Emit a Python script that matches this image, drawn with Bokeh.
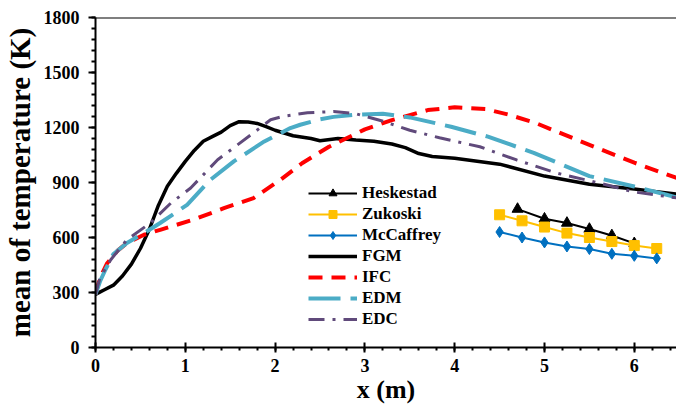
from bokeh.plotting import figure
from bokeh.models import Span, Range1d, FixedTicker
from bokeh.embed import file_html
from bokeh.resources import INLINE

# ---- data ----
x_fgm = [0, 0.1, 0.2, 0.3, 0.4, 0.5, 0.6, 0.7, 0.8, 0.9, 1.0, 1.1, 1.2, 1.3, 1.4, 1.5, 1.6, 1.7, 1.8, 1.9,
         2.0, 2.1, 2.2, 2.4, 2.5, 2.7, 2.9, 3.1, 3.3, 3.45, 3.6, 3.75, 4.0, 4.5, 5.0, 5.5, 6.0, 6.2, 6.5]
fgm = [290, 315, 340, 390, 455, 540, 645, 775, 880, 950, 1015, 1075, 1125, 1150, 1175, 1210, 1232, 1230, 1222, 1205,
       1185, 1170, 1155, 1140, 1128, 1140, 1132, 1125, 1110, 1090, 1058, 1042, 1032, 1000, 935, 890, 865, 853, 835]

x_ifc = [0, 0.05, 0.13, 0.25, 0.35, 0.54, 0.72, 1.09, 1.43, 1.76, 2.06, 2.3, 2.6, 3.0, 3.3, 3.7, 4.0, 4.35,
         4.6, 4.9, 5.4, 6.0, 6.5]
ifc = [290, 380, 460, 530, 570, 615, 642, 697, 760, 815, 915, 1005, 1095, 1190, 1240, 1295, 1310, 1300,
       1270, 1225, 1125, 1008, 920]

x_edm = [0, 0.05, 0.11, 0.2, 0.35, 0.54, 0.72, 1.02, 1.28, 1.54, 1.88, 2.17, 2.28, 2.5, 2.65, 2.9,
         3.2, 3.5, 3.96, 4.37, 4.88, 5.5, 6.0, 6.36, 6.5]
edm = [290, 360, 424, 510, 570, 624, 679, 778, 915, 1015, 1124, 1197, 1215, 1245, 1258, 1270,
       1275, 1255, 1204, 1150, 1062, 935, 878, 833, 815]

x_edc = [0, 0.05, 0.17, 0.35, 0.61, 0.84, 1.06, 1.36, 1.73, 1.95, 2.1, 2.36, 2.65, 2.9, 3.21, 3.5,
         3.83, 4.28, 4.69, 5.13, 5.61, 5.99, 6.47]
edc = [290, 380, 479, 588, 679, 788, 870, 1024, 1160, 1242, 1262, 1280, 1287, 1275, 1233, 1185,
       1144, 1095, 1023, 952, 897, 849, 816]

x_hes = [4.7, 5.0, 5.25, 5.5, 5.75, 6.0]
heskestad = [755, 702, 679, 646, 611, 568]

x_corr = [4.5, 4.75, 5.0, 5.25, 5.5, 5.75, 6.0, 6.25]
zukoski = [724, 691, 657, 624, 600, 578, 556, 540]
mccaffrey = [630, 600, 573, 551, 537, 511, 500, 486]

x_ticks = [0, 1, 2, 3, 4, 5, 6]
y_ticks = [0, 300, 600, 900, 1200, 1500, 1800]
x_title = "x (m)"
y_title = "mean of temperature (K)"

FONT = "Liberation Serif"

p = figure(width=676, height=406, output_backend="svg", toolbar_location=None,
           x_range=Range1d(0, 6.47), y_range=Range1d(0, 1800),
           min_border_left=95, min_border_right=0, min_border_top=17, min_border_bottom=58)
p.outline_line_color = None
p.xgrid.visible = False
p.ygrid.visible = False
p.background_fill_color = "white"

# analytical correlations
p.line(x_hes, heskestad, line_color="black", line_width=2, legend_label="Heskestad")
p.scatter(x_hes, heskestad, marker="triangle", size=11, fill_color="black", line_color="black",
          legend_label="Heskestad")
p.line(x_corr, zukoski, line_color="#FFC000", line_width=2, legend_label="Zukoski")
p.scatter(x_corr, zukoski, marker="square", size=10, fill_color="#FFC000", line_color="#FFC000",
          legend_label="Zukoski")
p.line(x_corr, mccaffrey, line_color="#0070C0", line_width=2, legend_label="McCaffrey")
p.scatter(x_corr, mccaffrey, marker="diamond", size=11, fill_color="#0070C0", line_color="#0070C0",
          legend_label="McCaffrey")

# models
p.line(x_fgm, fgm, line_color="black", line_width=3.5, legend_label="FGM")
p.line(x_ifc, ifc, line_color="#FF0000", line_width=4, line_dash="14 9", legend_label="IFC")
p.line(x_edm, edm, line_color="#4BACC6", line_width=4, line_dash="32 10", legend_label="EDM")
p.line(x_edc, edc, line_color="#604A7B", line_width=3, line_dash="16 8 3 8", legend_label="EDC")

p.add_layout(Span(location=1800, dimension="width", line_color="black", line_width=2))

# axes
for ax in (p.xaxis[0], p.yaxis[0]):
    ax.axis_line_width = 2
    ax.major_tick_line_width = 2
    ax.minor_tick_line_width = 2
    ax.major_label_text_font = FONT
    ax.major_label_text_font_style = "bold"
    ax.major_label_text_font_size = "18px"
    ax.major_label_text_color = "black"
    ax.axis_label_text_font = FONT
    ax.axis_label_text_font_style = "bold"
    ax.axis_label_text_color = "black"

p.xaxis.axis_label_text_font_size = "26px"
p.yaxis.axis_label_text_font_size = "29px"
p.xaxis.ticker = FixedTicker(ticks=x_ticks, minor_ticks=[i * 0.2 for i in range(33)])
p.yaxis.ticker = FixedTicker(ticks=y_ticks, minor_ticks=[i * 60 for i in range(31)])
p.xaxis.axis_label = x_title
p.yaxis.axis_label = y_title
p.xaxis.major_tick_in = 5
p.xaxis.major_tick_out = 5
p.xaxis.minor_tick_in = 0
p.xaxis.minor_tick_out = 3
p.xaxis.major_label_standoff = 6
p.xaxis.axis_label_standoff = 0
p.xaxis.axis_label_text_line_height = 0.8
p.yaxis.major_tick_in = 0
p.yaxis.major_tick_out = 7
p.yaxis.minor_tick_in = 0
p.yaxis.minor_tick_out = 4
p.yaxis.major_label_standoff = 9
p.yaxis.axis_label_standoff = 5

# legend
lg = p.legend[0]
lg.location = (213, 18)
lg.background_fill_alpha = 0
lg.border_line_color = None
lg.padding = 0
lg.margin = 0
lg.spacing = 1
lg.glyph_width = 49
lg.glyph_height = 20
lg.label_height = 20
lg.label_standoff = 5
lg.label_text_font = FONT
lg.label_text_font_style = "bold"
lg.label_text_font_size = "17px"
lg.label_text_color = "black"

open("out.html", "w").write(file_html(p, INLINE))
